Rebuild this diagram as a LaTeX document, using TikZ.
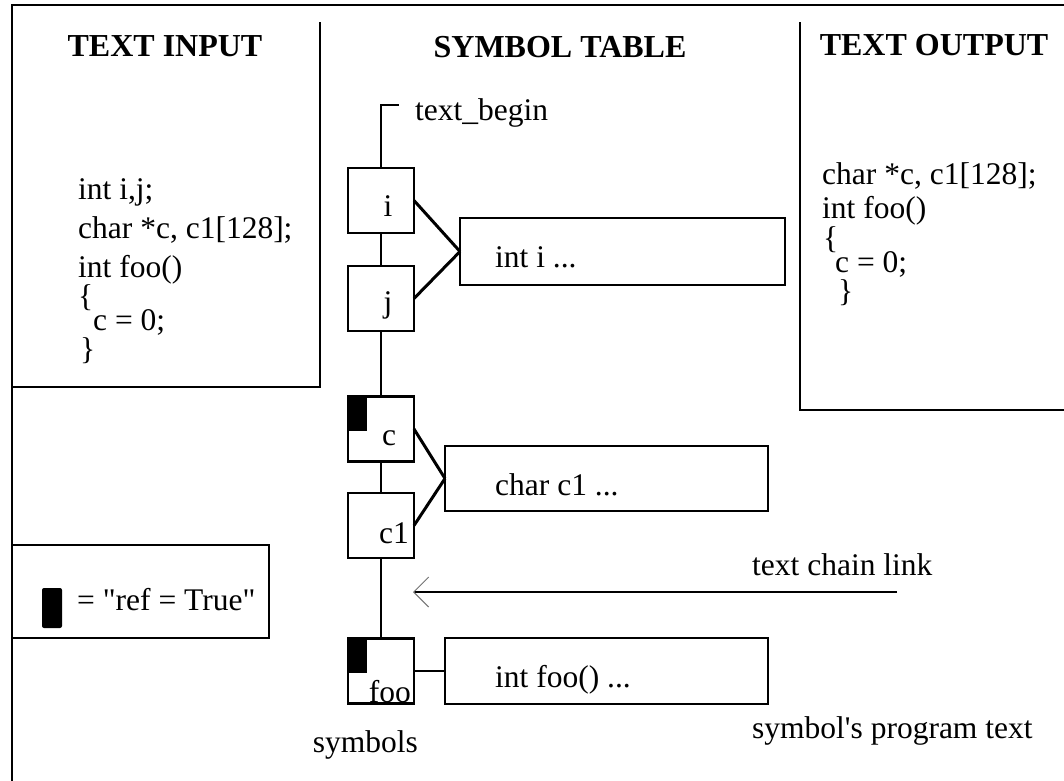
\documentclass[tikz,border=0pt]{standalone}
\usepackage{fontspec}
\setmainfont{Liberation Serif}[Ligatures=TeXOff]
\usetikzlibrary{arrows.meta}

\begin{document}
\begin{tikzpicture}[x=1pt,y=-1pt,
  frameline/.style={line width=2.6pt},
  divider/.style={line width=2.2pt},
  body/.style={font=\fontsize{31.5}{36}\selectfont, inner sep=0pt, anchor=base west},
  head/.style={font=\fontsize{32}{38}\selectfont\bfseries, inner sep=0pt, anchor=base},
  symbox/.style={draw, line width=2.4pt, minimum width=66pt, minimum height=65pt, inner sep=0pt, outer sep=0pt},
  progbox/.style={draw, line width=2.4pt, minimum height=66pt, inner sep=0pt, outer sep=0pt},
  chain/.style={line width=2pt},
  link/.style={line width=3pt},
  refmark/.style={fill=black, inner sep=0pt, outer sep=0pt, minimum width=19pt, minimum height=34pt, anchor=north west},
]
\useasboundingbox (0,0) rectangle (1064,780);
\fill[white] (0,0) rectangle (1064,780);
\clip (0,0) rectangle (1064,780);

% outer frame and the three columns
\draw[frameline] (12,800) -- (12,5) -- (1080,5);
\draw[divider] (320,22) -- (320,387) -- (12,387);
\draw[divider] (800,22) -- (800,410) -- (1080,410);

% column headings
\node[head] (hin)  at (165,56) {TEXT INPUT};
\node[head] (hsym) at (560,57) {SYMBOL TABLE};
\node[head] (hout) at (934,55) {TEXT OUTPUT};

% source text
\node[body] (in1) at (78,199) {int i,j;};
\node[body] (in2) at (78,238) {char *c, c1[128];};
\node[body] (in3) at (78,277) {int foo()};
\node[body] (in4) at (78,306) {\{};
\node[body] (in5) at (93,330) {c = 0;};
\node[body] (in6) at (80,359) {\}};

% generated text
\node[body] (out1) at (822,184) {char *c, c1[128];};
\node[body] (out2) at (822,218) {int foo()};
\node[body] (out3) at (823,248) {\{};
\node[body] (out4) at (835,272) {c = 0;};
\node[body] (out5) at (838,301) {\}};

% symbol chain
\node[symbox] (si)  at (381,200.5) {};
\node[symbox] (sj)  at (381,298.5) {};
\node[symbox] (sc)  at (381,429)   {};
\node[symbox] (scl) at (381,525.5) {};
\node[symbox] (sf)  at (381,671)   {};

\node[refmark] (cref) at (sc.north west) {};
\node[refmark] (fref) at (sf.north west) {};

\node[body, anchor=base] (li)  at (388,216) {i};
\node[body, anchor=base] (lj)  at (388,312) {j};
\node[body, anchor=base] (lc)  at (389,445) {c};
\node[body, anchor=base east] (lcl) at (409,543) {c1};
\node[body, anchor=base east] (lf)  at (411,702) {foo};

\coordinate (tb) at (381,105);
\draw[chain] (si.north) -- (tb) -- ++(18,0);
\node[body] (tbtxt) at (415,120) {text\_begin};

\draw[chain] (si.south)  -- (sj.north);
\draw[chain] (sj.south)  -- (sc.north);
\draw[chain] (sc.south)  -- (scl.north);
\draw[chain] (scl.south) -- (sf.north);

% program text of each symbol
\node[progbox, minimum width=325pt, minimum height=67pt] (pi) at (622.5,251.5) {};
\node[progbox, minimum width=323pt, minimum height=65pt] (pc) at (606.5,478.5) {};
\node[progbox, minimum width=323pt] (pf) at (606.5,671) {};

\node[body] (ti) at (495,267) {int i ...};
\node[body] (tc) at (495,495) {char c1 ...};
\node[body] (tf) at (495,687) {int foo() ...};

\draw[link] (si.east)  -- (pi.west);
\draw[link] (sj.east)  -- (pi.west);
\draw[link] (sc.east)  -- (pc.west);
\draw[link] (scl.east) -- (pc.west);
\draw[line width=2.4pt] (sf.east) -- (pf.west);

% text chain link
\coordinate (linkfrom) at (897,592);
\coordinate (linkto) at (413,592);
\draw[line width=2.4pt, -{Straight Barb[length=15pt,width=30pt,line width=1pt,color=black!55]}] (linkfrom) -- (linkto);
\node[body] (linktxt) at (752,575) {text chain link};

\node[body] (progtxt) at (752,738) {symbol's program text};
\node[body, anchor=base east] (symtxt) at (418,752) {symbols};

% legend
\node[draw, line width=2.4pt, minimum width=257pt, minimum height=93pt, inner sep=0pt, outer sep=0pt] (legend) at (140.5,591.5) {};
\node[fill=black, minimum width=20pt, minimum height=40pt, inner sep=0pt, rounded corners=2pt] (legsq) at (52,608) {};
\node[body] (legtxt) at (77,610) {= "ref = True"};
\end{tikzpicture}
\end{document}
